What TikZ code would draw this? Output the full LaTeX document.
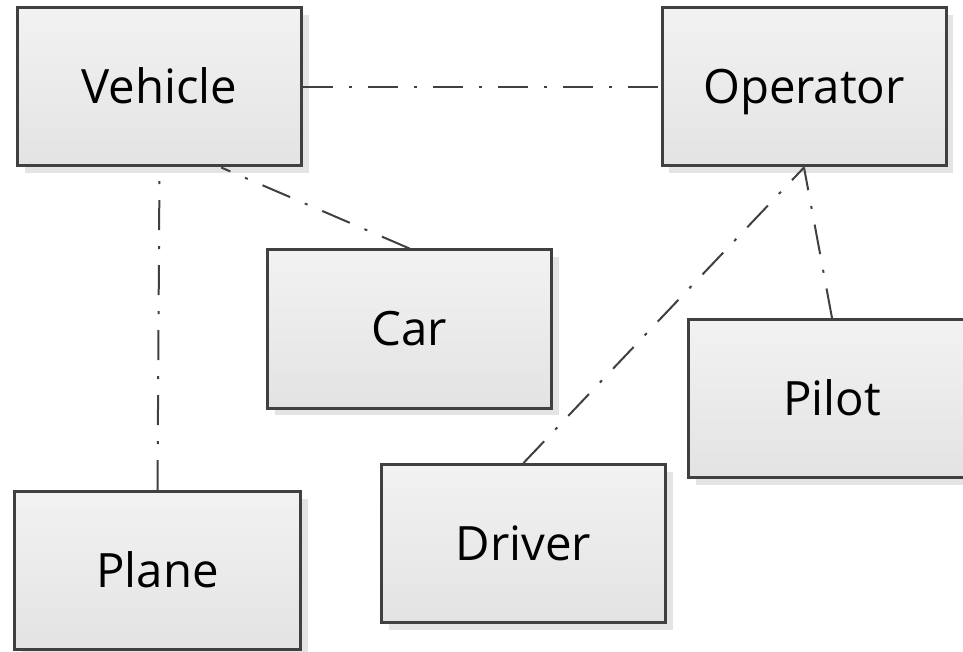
\documentclass[tikz,border=0pt]{standalone}
\usepackage{fontspec}
\setmainfont{Open Sans}
\usetikzlibrary{shadows,calc}
\definecolor{edge}{HTML}{404040}
\definecolor{boxtop}{HTML}{F2F2F2}
\definecolor{boxbot}{HTML}{E3E3E3}
\definecolor{shade}{HTML}{E4E4E4}
\tikzset{
  classbox/.style={draw=edge, line width=2.25pt, rectangle,
    top color=boxtop, bottom color=boxbot,
    minimum width=213pt, minimum height=118.5pt, inner sep=0pt,
    text height=25pt, text depth=0pt,
    font=\fontsize{35.5}{38}\selectfont,
    drop shadow={shadow xshift=5.25pt, shadow yshift=-5.25pt, fill=shade, opacity=1}},
  assoc/.style={draw=edge, line width=1.5pt,
    dash pattern=on 22.5pt off 12pt on 2.25pt off 12pt}
}
\begin{document}
\begin{tikzpicture}[x=0.75pt, y=-0.75pt]
  \useasboundingbox (0,0) rectangle (963,652);
  \clip (0,0) rectangle (963,652);
  % classes
  \node[classbox] (veh)    at (159.5,87)  {Vehicle};
  \node[classbox] (op)     at (804,87)    {Operator};
  \node[classbox] (car)    at (409.5,329) {Car};
  \node[classbox, minimum width=215.25pt] (pilot) at (832,398.5) {Pilot};
  \node[classbox, minimum width=214.5pt] (plane)  at (157.5,570.5) {Plane};
  \node[classbox] (driver) at (523.5,543.5) {Driver};
  % associations
  \draw[assoc] (veh.east) -- (op.west);
  \draw[assoc] (plane.north) -- ($(veh.south west)!0.5!(veh.south east)$);
  \draw[assoc] (car.north) -- ($(veh.south west)!0.715!(veh.south east)$);
  \draw[assoc] (driver.north) -- (op.south);
  \draw[assoc] (pilot.north) -- (op.south);
\end{tikzpicture}
\end{document}
